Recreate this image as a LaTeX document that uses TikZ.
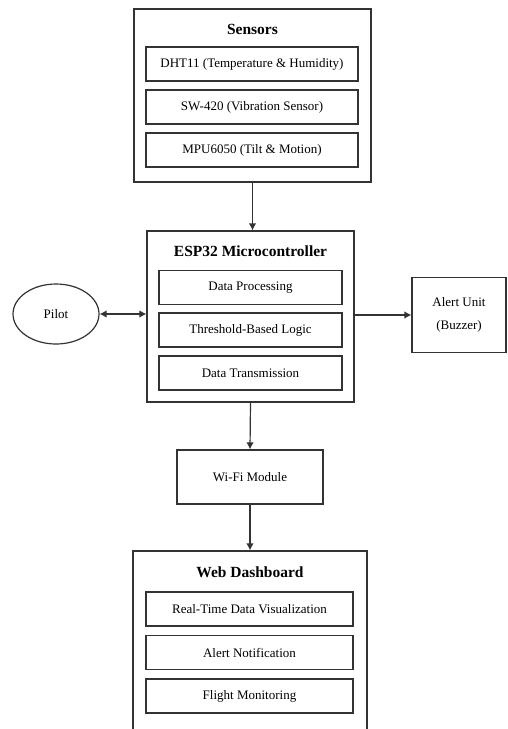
\documentclass[tikz,border=0pt]{standalone}
\usepackage{fontspec}
\setmainfont{Liberation Serif}
\usetikzlibrary{arrows.meta,shapes.geometric}

\begin{document}
\begin{tikzpicture}[x=1pt,y=-1pt,
  box/.style={draw=black!80, line width=1.2pt, fill=white, inner sep=0pt},
  item/.style={box, minimum height=34pt, font=\fontsize{13}{15}\selectfont},
  ttl/.style={font=\fontsize{15.5}{17}\selectfont\bfseries},
  tip/.style={Latex[length=7pt,width=7.5pt]},
  conn/.style={line width=1.2pt, draw=black!80, -{Latex[length=7pt,width=7.5pt]}}]
\useasboundingbox (0,0) rectangle (507,729);
\clip (0,0) rectangle (507,729);

% sensors
\node[box, minimum width=237pt, minimum height=173pt] (sensors) at (252.5,95.5) {};
\node[ttl] (sensorsttl) at (252.5,29) {Sensors};
\node[item, minimum width=212pt] (dht) at (252,64) {DHT11 (Temperature \& Humidity)};
\node[item, minimum width=212pt] (sw) at (252,107) {SW-420 (Vibration Sensor)};
\node[item, minimum width=212pt] (mpu) at (252,150) {MPU6050 (Tilt \& Motion)};

% microcontroller
\node[box, minimum width=207pt, minimum height=171pt] (esp) at (250.5,316.5) {};
\node[ttl] (espttl) at (250.5,251) {ESP32 Microcontroller};
\node[item, minimum width=183pt] (proc) at (250.5,287.5) {Data Processing};
\node[item, minimum width=183pt] (logic) at (250.5,330) {Threshold-Based Logic};
\node[item, minimum width=183pt] (trans) at (250.5,373) {Data Transmission};

% pilot and alert
\node[box, ellipse, minimum width=86pt, minimum height=60pt, font=\fontsize{13}{15}\selectfont] (pilot) at (56,314) {Pilot};
\node[box, minimum width=94pt, minimum height=75pt, align=center, font=\fontsize{13}{23}\selectfont] (alert) at (459,315) {Alert Unit\\(Buzzer)};

% wifi
\node[box, minimum width=146pt, minimum height=54pt, font=\fontsize{13}{15}\selectfont] (wifi) at (250,477) {Wi-Fi Module};

% dashboard
\node[box, minimum width=234pt, minimum height=190pt] (web) at (250,646) {};
\node[ttl] (webttl) at (250,572) {Web Dashboard};
\node[item, minimum width=207pt] (viz) at (249.5,609) {Real-Time Data Visualization};
\node[item, minimum width=207pt] (notif) at (249.5,652.5) {Alert Notification};
\node[item, minimum width=207pt] (monit) at (249.5,696) {Flight Monitoring};

% connectors
\draw[conn] (sensors.south) -- (sensors.south |- esp.north);
\draw[conn, {Latex[length=7pt,width=7.5pt]}-{Latex[length=7pt,width=7.5pt]}] (pilot.east) -- (pilot.east -| esp.west);
\draw[conn] (esp.east |- alert.west) -- (alert.west);
\draw[conn] (esp.south) -- (wifi.north);
\draw[conn] (wifi.south) -- (web.north);
\end{tikzpicture}
\end{document}
